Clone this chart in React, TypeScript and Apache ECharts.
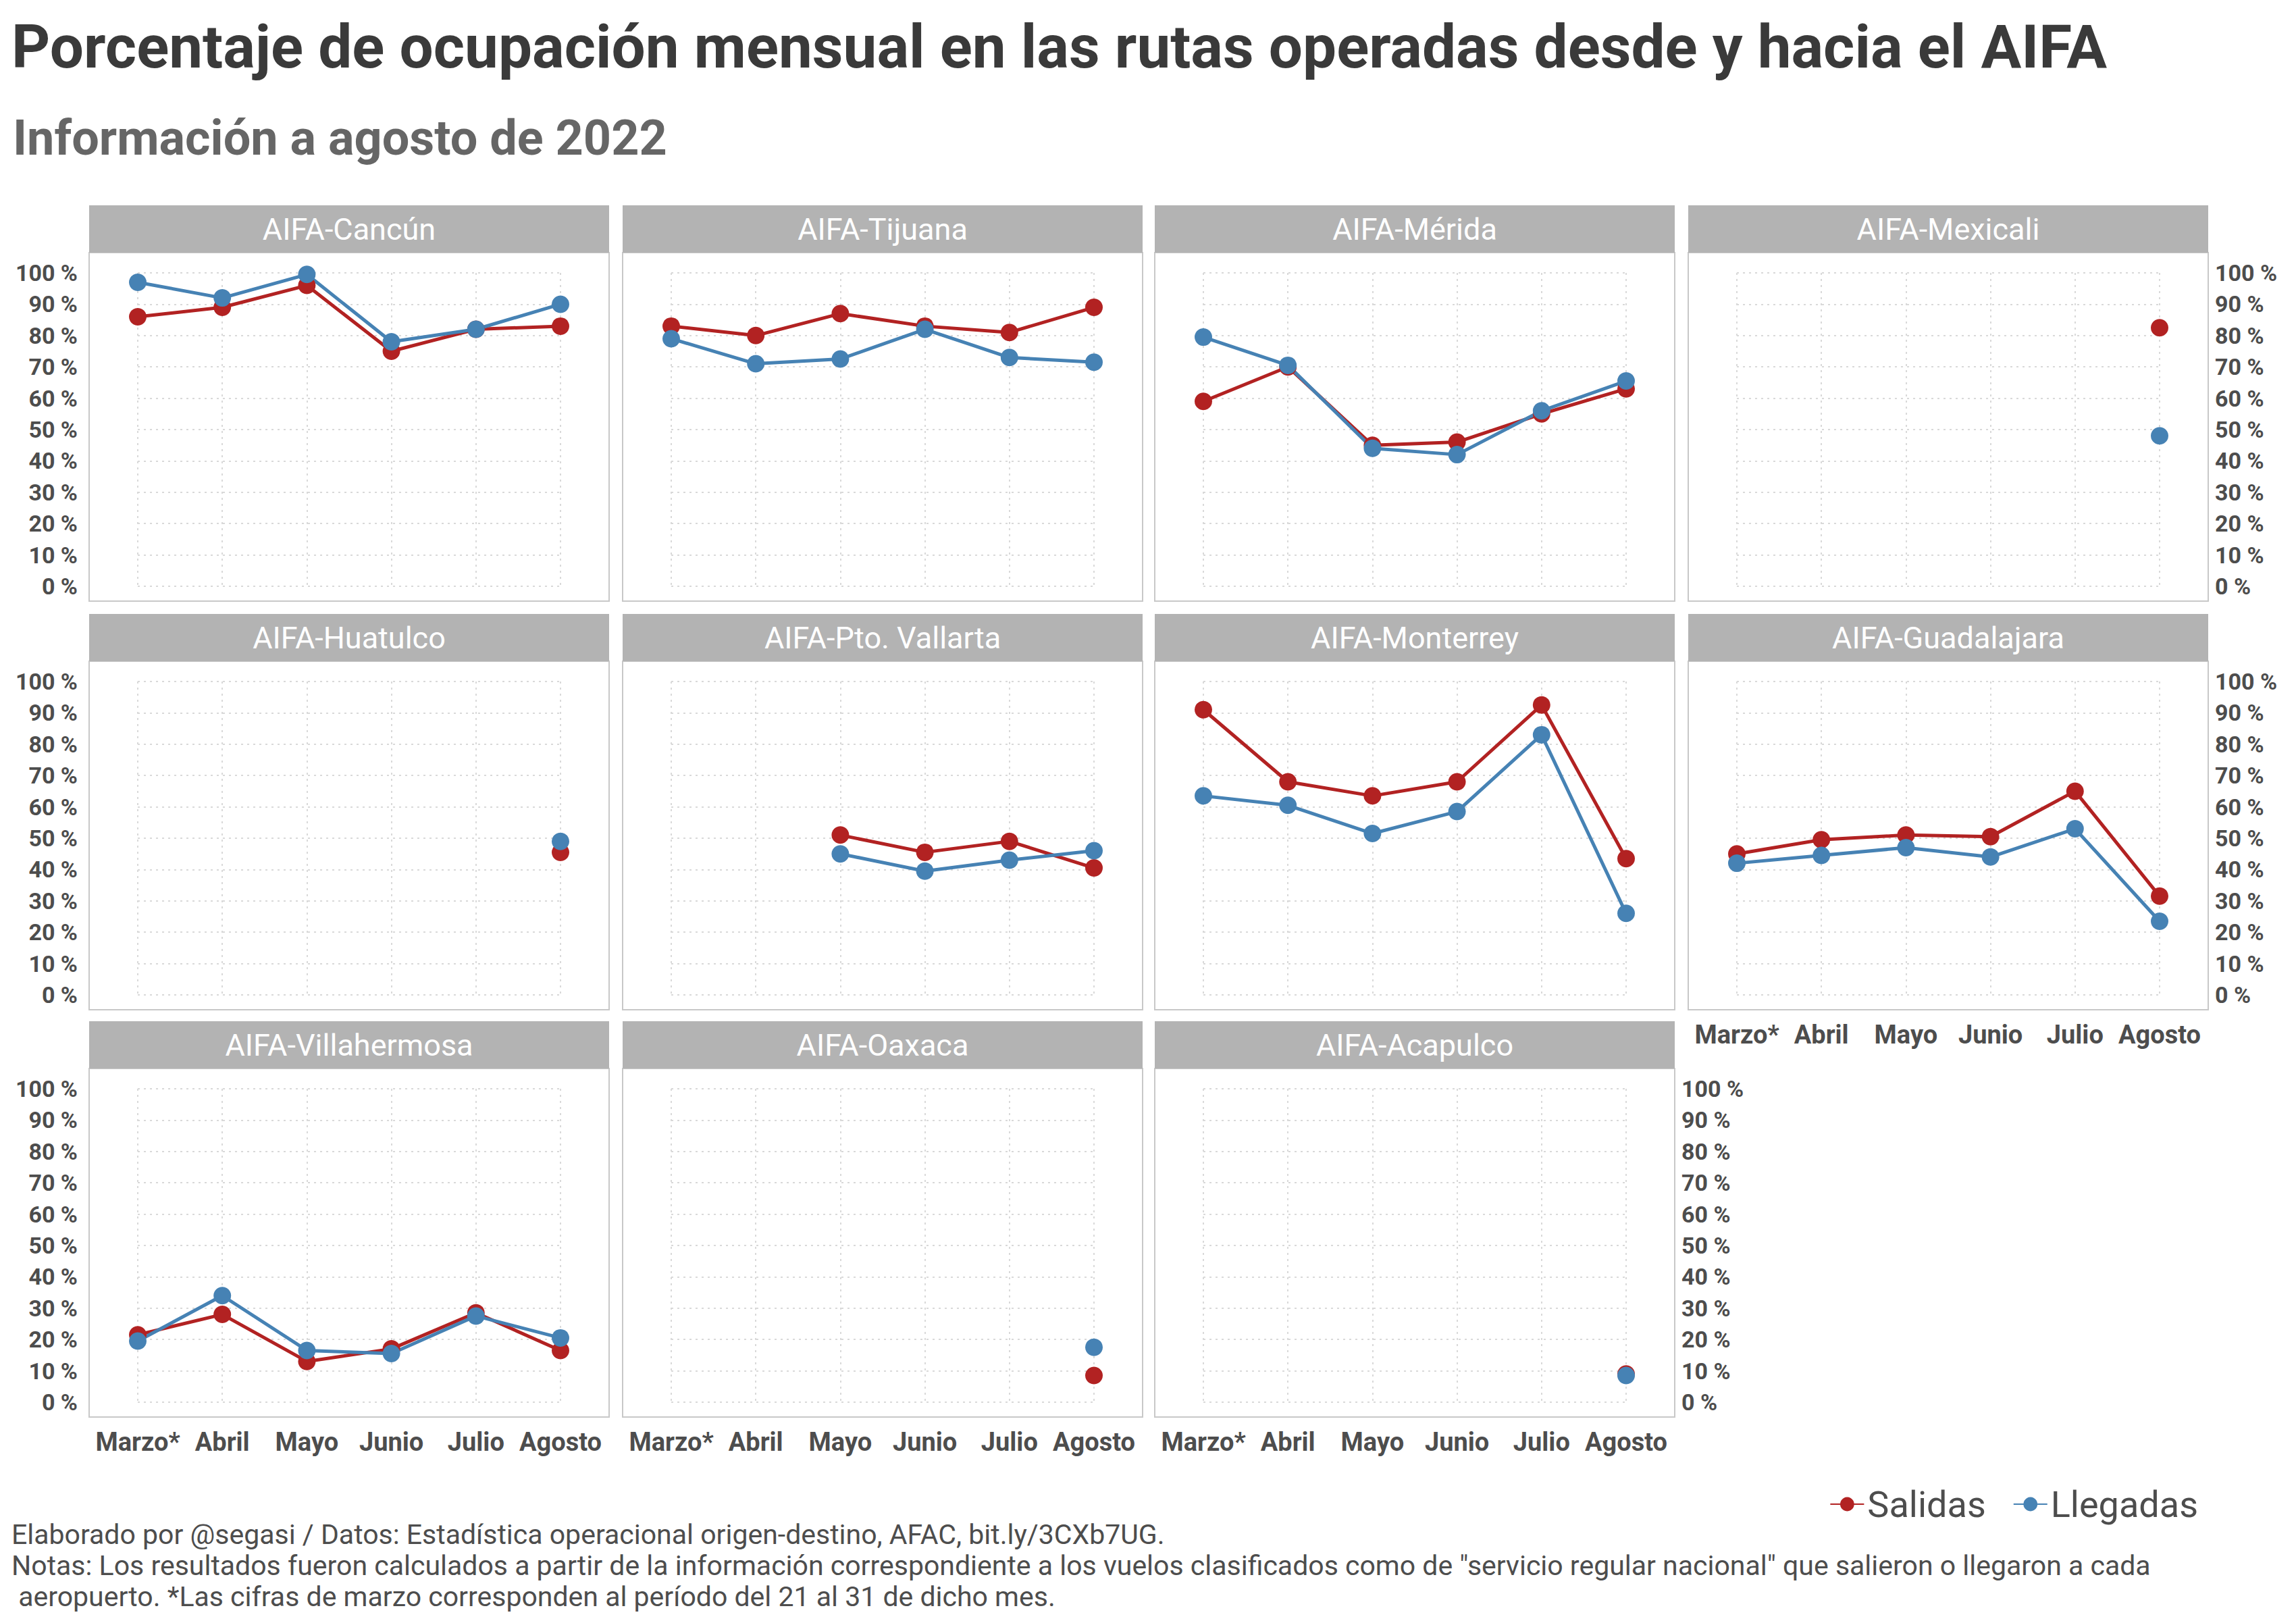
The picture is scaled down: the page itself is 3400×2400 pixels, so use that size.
import * as echarts from 'echarts';
import React, { useEffect, useRef } from 'react';

const months = ['Marzo*', 'Abril', 'Mayo', 'Junio', 'Julio', 'Agosto'];
const routes = [
  'AIFA-Cancún', 'AIFA-Tijuana', 'AIFA-Mérida', 'AIFA-Mexicali',
  'AIFA-Huatulco', 'AIFA-Pto. Vallarta', 'AIFA-Monterrey', 'AIFA-Guadalajara',
  'AIFA-Villahermosa', 'AIFA-Oaxaca', 'AIFA-Acapulco',
];
const salidas: (number | null)[][] = [
  [86, 89, 96, 75, 82, 83],
  [83, 80, 87, 83, 81, 89],
  [59, 70, 45, 46, 55, 63],
  [null, null, null, null, null, 82.5],
  [null, null, null, null, null, 45.5],
  [null, null, 51, 45.5, 49, 40.5],
  [91, 68, 63.5, 68, 92.5, 43.5],
  [45, 49.5, 51, 50.5, 65, 31.5],
  [21.5, 28, 13, 17, 28.5, 16.5],
  [null, null, null, null, null, 8.5],
  [null, null, null, null, null, 9],
];
const llegadas: (number | null)[][] = [
  [97, 92, 99.5, 78, 82, 90],
  [79, 71, 72.5, 82, 73, 71.5],
  [79.5, 70.5, 44, 42, 56, 65.5],
  [null, null, null, null, null, 48],
  [null, null, null, null, null, 49],
  [null, null, 45, 39.5, 43, 46],
  [63.5, 60.5, 51.5, 58.5, 83, 26],
  [42, 44.5, 47, 44, 53, 23.5],
  [19.5, 34, 16.5, 15.5, 27.5, 20.5],
  [null, null, null, null, null, 17.5],
  [null, null, null, null, null, 8.5],
];

const RED = '#B22222';
const BLUE = '#4682B4';
const TXT = '#4d4d4d';
const FONT = 'Roboto, "Noto Sans", sans-serif';

const colX = [132, 922, 1710, 2500];
const colW = 770;
const rowTop = [304, 909, 1512];
const stripH = 70;
const plotH = 516;
const padX = 72;

const App: React.FC = () => {
  const ref = useRef<HTMLDivElement>(null);

  useEffect(() => {
    if (!ref.current) return;
    const chart = echarts.init(ref.current, undefined, { renderer: 'svg' });

    const grids: any[] = [];
    const xAxes: any[] = [];
    const yAxes: any[] = [];
    const series: any[] = [];
    const graphic: any[] = [];
    const gridLine = { show: true, lineStyle: { color: '#d9d9d9', type: [3, 6], width: 2 } };

    routes.forEach((name, i) => {
      const c = i % 4;
      const r = Math.floor(i / 4);
      const px = colX[c];
      const stripY = rowTop[r];
      const plotY = stripY + stripH;
      graphic.push(
        { type: 'rect', shape: { x: px, y: plotY, width: colW, height: plotH }, style: { fill: '#fff', stroke: '#c8c8c8', lineWidth: 2 }, z: -10 },
        { type: 'rect', shape: { x: px, y: stripY, width: colW, height: stripH }, style: { fill: '#b3b3b3' }, z: -10 },
        { type: 'text', x: px + colW / 2, y: stripY + stripH / 2, style: { text: name, fill: '#fff', font: `45px ${FONT}`, align: 'center', verticalAlign: 'middle' } },
      );
      grids.push({ left: px + padX, width: colW - 2 * padX, top: plotY + 30, height: plotH - 52 });
      const showX = r === 2 || i === 7;
      xAxes.push({
        gridIndex: i, type: 'category', data: months, boundaryGap: false,
        axisLine: { show: false }, axisTick: { show: false },
        axisLabel: { show: showX, margin: 40, color: TXT, fontSize: 38, fontWeight: 'bold', fontFamily: FONT, interval: 0 },
        splitLine: gridLine,
      });
      const left = c === 0;
      const right = (c === 3) || i === 10;
      yAxes.push({
        gridIndex: i, type: 'value', min: 0, max: 100, interval: 10,
        position: right ? 'right' : 'left',
        axisLine: { show: false }, axisTick: { show: false },
        axisLabel: {
          show: left || right, margin: right ? 82 : 89, color: TXT, fontSize: 34, fontWeight: 'bold', fontFamily: FONT,
          formatter: (v: number) => `${v} %`,
        },
        splitLine: gridLine,
      });
      [['Salidas', salidas[i], RED], ['Llegadas', llegadas[i], BLUE]].forEach(([sn, vals, col]: any) => {
        series.push({
          name: sn, type: 'line', xAxisIndex: i, yAxisIndex: i,
          data: (vals as (number | null)[]).map((v, k) => [k, v]).filter((d) => d[1] !== null),
          symbol: 'circle', symbolSize: 26, lineStyle: { color: col, width: 5 }, itemStyle: { color: col },
        });
      });
    });

    const caption = [
      'Elaborado por @segasi / Datos: Estadística operacional origen-destino, AFAC, bit.ly/3CXb7UG.',
      'Notas: Los resultados fueron calculados a partir de la información correspondiente a los vuelos clasificados como de "servicio regular nacional" que salieron o llegaron a cada',
      ' aeropuerto. *Las cifras de marzo corresponden al período del 21 al 31 de dicho mes.',
    ];
    caption.forEach((t, k) => {
      graphic.push({ type: 'text', x: 17, y: 2272 + k * 46, style: { text: t, fill: TXT, font: `41px ${FONT}`, verticalAlign: 'middle' } });
    });

    chart.setOption({
      animation: false,
      backgroundColor: '#fff',
      title: [
        { text: 'Porcentaje de ocupación mensual en las rutas operadas desde y hacia el AIFA', left: 12, top: 20, textStyle: { color: '#3a3a3a', fontSize: 89, fontWeight: 'bold', fontFamily: FONT } },
        { text: 'Información a agosto de 2022', left: 14, top: 163, textStyle: { color: '#666', fontSize: 72, fontWeight: 'bold', fontFamily: FONT } },
      ],
      legend: {
        data: ['Salidas', 'Llegadas'], right: 140, top: 2195, itemWidth: 50, itemHeight: 26, itemGap: 40,
        textStyle: { color: TXT, fontSize: 54, fontFamily: FONT },
      },
      grid: grids, xAxis: xAxes, yAxis: yAxes, series, graphic,
    });

    return () => chart.dispose();
  }, []);

  return <div ref={ref} style={{ position: 'fixed', left: 0, top: 0, width: 3400, height: 2400 }} />;
};

export default App;
